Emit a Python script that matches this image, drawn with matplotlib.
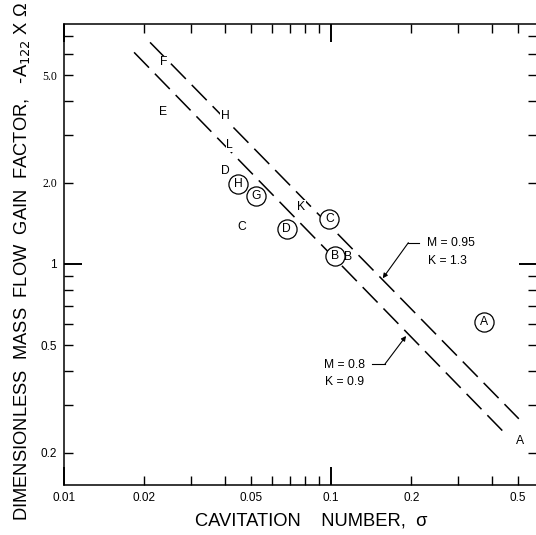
import matplotlib
matplotlib.use("Agg")
import matplotlib.pyplot as plt

plt.rcParams["font.family"] = ["Liberation Sans", "DejaVu Sans"]

# predicted lines (end points)
upper_sigma = [0.0210, 0.505]
upper_val = [6.62, 0.267]
lower_sigma = [0.0183, 0.446]
lower_val = [6.08, 0.237]

# plain letter points
plain_lbl = ["F", "E", "H", "L", "D", "C", "K", "B", "A"]
plain_sigma = [0.02355, 0.02343, 0.0401, 0.0418, 0.0401, 0.0463, 0.0770, 0.1155, 0.5104]
plain_val = [5.585, 3.646, 3.533, 2.747, 2.216, 1.368, 1.630, 1.064, 0.221]
on_line = ["F", "H", "L", "K"]

# circled letter points
circ_lbl = ["H", "G", "D", "C", "B", "A"]
circ_sigma = [0.04495, 0.05238, 0.06827, 0.0985, 0.1035, 0.3752]
circ_val = [1.973, 1.786, 1.351, 1.464, 1.071, 0.611]

xmajor = [0.01, 0.1]
xminor = [0.02, 0.03, 0.04, 0.05, 0.06, 0.07, 0.08, 0.09, 0.2, 0.3, 0.4, 0.5]
xminor_lbl = ["0.02", "", "", "0.05", "", "", "", "", "0.2", "", "", "0.5"]
ymajor = [1.0]
yminor = [0.2, 0.3, 0.4, 0.5, 0.6, 0.7, 0.8, 0.9, 2, 3, 4, 5, 6, 7]
yminor_lbl = ["0.2", "", "", "0.5", "", "", "", "", "2.0", "", "", "5.0", "", ""]

W, H = 536, 535
fig = plt.figure(figsize=(W / 100, H / 100), dpi=100)
ax = fig.add_axes([64 / W, (H - 485) / H, (537 - 64) / W, (485 - 24) / H])
ax.set_xscale("log")
ax.set_yscale("log")
ax.set_xlim(0.01, 0.5907)
ax.set_ylim(0.1518, 7.743)

ax.plot(upper_sigma, upper_val, color="black", lw=1.1, dashes=[14, 5.5])
ax.plot(lower_sigma, lower_val, color="black", lw=1.1, dashes=[14, 5.5])

for lb, s, v in zip(plain_lbl, plain_sigma, plain_val):
    kw = {}
    if lb in on_line:
        kw["bbox"] = dict(facecolor="white", edgecolor="none", pad=0.5)
    ax.text(s, v, lb, fontsize=8.7, ha="center", va="center", **kw)

ax.scatter(circ_sigma, circ_val, s=190, facecolors="white", edgecolors="black",
           linewidths=0.9, zorder=3)
for lb, s, v in zip(circ_lbl, circ_sigma, circ_val):
    ax.text(s, v, lb, fontsize=8.7, ha="center", va="center", zorder=4)

# annotations
ax.text(0.2283, 1.199, "M = 0.95", fontsize=8.7, ha="left", va="center")
ax.text(0.2309, 1.029, "K = 1.3", fontsize=8.7, ha="left", va="center")
ax.plot([0.2142, 0.1948], [1.199, 1.199], color="black", lw=0.8)
ax.annotate("", xy=(0.1562, 0.885), xytext=(0.1948, 1.199),
            arrowprops=dict(arrowstyle="-|>", color="black", lw=0.8,
                            mutation_scale=7, shrinkA=0, shrinkB=0))

ax.text(0.1341, 0.4215, "M = 0.8", fontsize=8.7, ha="right", va="center")
ax.text(0.1330, 0.3665, "K = 0.9", fontsize=8.7, ha="right", va="center")
ax.plot([0.1421, 0.1593], [0.4262, 0.4262], color="black", lw=0.8)
ax.annotate("", xy=(0.1910, 0.5412), xytext=(0.1593, 0.4262),
            arrowprops=dict(arrowstyle="-|>", color="black", lw=0.8,
                            mutation_scale=7, shrinkA=0, shrinkB=0))

ax.set_xticks(xmajor, ["0.01", "0.1"])
ax.set_xticks(xminor, xminor_lbl, minor=True)
ax.set_yticks(ymajor, ["1"])
ax.set_yticks(yminor, yminor_lbl, minor=True)
ax.tick_params(which="both", direction="in", top=True, right=True,
               labelsize=8.5, pad=5)
ax.tick_params(which="major", length=13, width=1.4)
ax.tick_params(which="minor", length=6.5, width=1.0)
for t in ax.get_yticklabels(minor=True):
    if t.get_text() in ("2.0", "5.0"):
        t.set_fontfamily("Liberation Serif")
for sp in ax.spines.values():
    sp.set_linewidth(1.1)

fig.text(311 / W, 1 - 521 / H, "CAVITATION    NUMBER,  σ", fontsize=13.2,
         ha="center", va="center")
fig.text(22 / W, 1 - 262 / H,
         "DIMENSIONLESS  MASS  FLOW  GAIN  FACTOR,   -A$_{122}$ X Ω",
         fontsize=13.2, rotation=90, ha="center", va="center")

fig.savefig("out.png", dpi=100)
